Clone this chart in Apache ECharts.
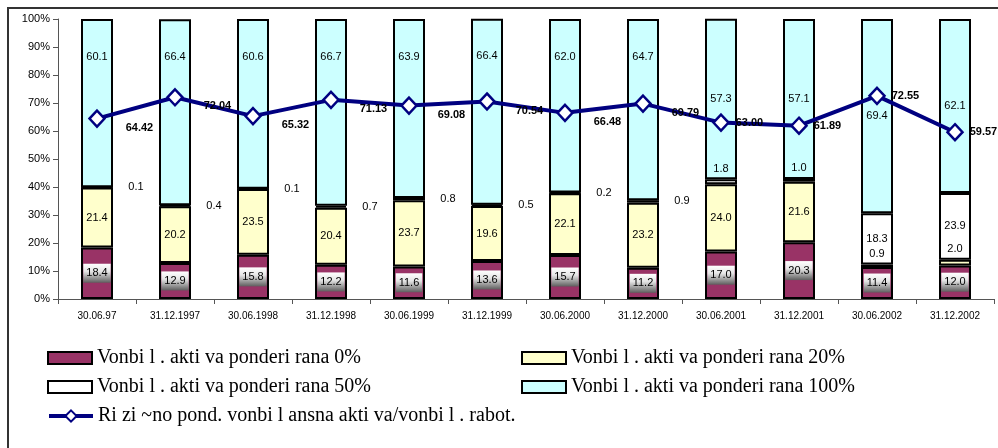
<!DOCTYPE html>
<html>
<head>
<meta charset="utf-8">
<script src="https://cdn.jsdelivr.net/npm/echarts@6/dist/echarts.min.js"></script>
<style>
html, body { margin: 0; padding: 0; background: #fff; }
#main { width: 998px; height: 448px; }
</style>
</head>
<body>
<div id="main"></div>
<script>
// datumi
var categories = ['30.06.97', '31.12.1997', '30.06.1998', '31.12.1998', '30.06.1999', '31.12.1999',
    '30.06.2000', '31.12.2000', '30.06.2001', '31.12.2001', '30.06.2002', '31.12.2002'];
var ponder0 = [18.4, 12.9, 15.8, 12.2, 11.6, 13.6, 15.7, 11.2, 17.0, 20.3, 11.4, 12.0];
var ponder20 = [21.4, 20.2, 23.5, 20.4, 23.7, 19.6, 22.1, 23.2, 24.0, 21.6, 0.9, 2.0];
var ponder50 = [0.1, 0.4, 0.1, 0.7, 0.8, 0.5, 0.2, 0.9, 1.8, 1.0, 18.3, 23.9];
var ponder100 = [60.1, 66.4, 60.6, 66.7, 63.9, 66.4, 62.0, 64.7, 57.3, 57.1, 69.4, 62.1];
var rizicno = [64.42, 72.04, 65.32, 71.13, 69.08, 70.54, 66.48, 69.79, 63.00, 61.89, 72.55, 59.57];
var yTicks = [0, 10, 20, 30, 40, 50, 60, 70, 80, 90, 100];

var names = [
    'Vonbi l . akti va ponderi rana 0%',
    'Vonbi l . akti va ponderi rana 20%',
    'Vonbi l . akti va ponderi rana 50%',
    'Vonbi l . akti va ponderi rana 100%',
    'Ri zi ~no pond. vonbi l ansna akti va/vonbi l . rabot.'
];

var dom = document.getElementById('main');
var myChart = echarts.init(dom);

var baseLabel = {
    show: true,
    color: '#000',
    fontFamily: 'Arial, Liberation Sans, sans-serif',
    fontSize: 11,
    formatter: function (p) { return p.value.toFixed(1); }
};

var data0 = ponder0.map(function (v) {
    return { value: v };
});

var data20 = ponder20.map(function (v) {
    if (v < 3) {
        return { value: v, label: { position: 'top', distance: 5 } };
    }
    return { value: v };
});

// mali vrednosti - etiketata desno od stolbot ili nad nego
var data50 = ponder50.map(function (v, i) {
    if (v < 3 && i < 8) {
        return { value: v, label: { position: 'inside', offset: [39, 0] } };
    }
    if (v < 3) {
        return { value: v, label: { position: 'top', distance: 5 } };
    }
    return { value: v };
});

var data100 = ponder100.map(function (v, i) {
    if (i < 8) {
        return { value: v, label: { position: 'insideTop', distance: 32 } };
    }
    return { value: v };
});

var dataLine = rizicno.map(function (v, i) {
    if (i < 8) {
        return { value: v, label: { distance: 20, offset: [0, 9] } };
    }
    return { value: v, label: { distance: 6, offset: [0, 0] } };
});

var barStyle = function (color) {
    return { color: color, borderColor: '#000', borderWidth: 2 };
};

var legendText = {
    fontFamily: 'Liberation Serif, serif',
    fontSize: 20,
    color: '#000'
};

function legendAt(name, left, top, isLine) {
    var lg = {
        data: [{ name: name, icon: isLine ? undefined : 'rect' }],
        left: left,
        top: top,
        itemWidth: 44,
        itemHeight: 12,
        itemGap: 0,
        padding: 0,
        selectedMode: false,
        textStyle: legendText
    };
    if (isLine) {
        lg.lineStyle = { width: 4 };
        lg.itemHeight = 14;
    }
    return lg;
}

option = {
    animation: false,
    backgroundColor: '#fff',
    grid: {
        left: 58,
        right: 4,
        top: 19,
        bottom: 149
    },
    graphic: [{
        type: 'rect',
        shape: { x: 8, y: 8, width: 1000, height: 500 },
        style: { fill: null, stroke: '#333', lineWidth: 2 },
        silent: true
    }],
    legend: [
        legendAt(names[0], 47, 348),
        legendAt(names[1], 521, 348),
        legendAt(names[2], 47, 377),
        legendAt(names[3], 521, 377),
        legendAt(names[4], 47, 406, true)
    ],
    xAxis: {
        type: 'category',
        data: categories,
        axisLine: { lineStyle: { color: '#555', width: 1 } },
        axisTick: { show: true, length: 5, lineStyle: { color: '#555' } },
        axisLabel: {
            color: '#000',
            fontFamily: 'Arial, Liberation Sans, sans-serif',
            fontSize: 10,
            margin: 12,
            interval: 0
        },
        splitLine: { show: false }
    },
    yAxis: {
        type: 'value',
        min: yTicks[0],
        max: yTicks[yTicks.length - 1],
        interval: 10,
        axisLine: { show: true, lineStyle: { color: '#555', width: 1 } },
        axisTick: { show: true, length: 5, lineStyle: { color: '#555' } },
        axisLabel: {
            color: '#000',
            fontFamily: 'Arial, Liberation Sans, sans-serif',
            fontSize: 11,
            margin: 8,
            formatter: '{value}%'
        },
        splitLine: { show: false }
    },
    series: [{
        name: names[0],
        type: 'bar',
        stack: 'a',
        barWidth: 32,
        itemStyle: barStyle('#993366'),
        label: Object.assign({}, baseLabel, {
            position: 'inside',
            padding: [4, 3, 4, 3],
            backgroundColor: new echarts.graphic.LinearGradient(0, 0, 0, 1, [
                { offset: 0, color: '#ffffff' },
                { offset: 0.4, color: '#e6e6e6' },
                { offset: 1, color: '#5e5e5e' }
            ])
        }),
        data: data0
    }, {
        name: names[1],
        type: 'bar',
        stack: 'a',
        itemStyle: barStyle('#FFFFCC'),
        label: Object.assign({}, baseLabel, { position: 'inside' }),
        data: data20
    }, {
        name: names[2],
        type: 'bar',
        stack: 'a',
        itemStyle: barStyle('#FFFFFF'),
        label: Object.assign({}, baseLabel, { position: 'inside' }),
        data: data50
    }, {
        name: names[3],
        type: 'bar',
        stack: 'a',
        itemStyle: barStyle('#CCFFFF'),
        label: Object.assign({}, baseLabel, { position: 'inside' }),
        data: data100
    }, {
        name: names[4],
        type: 'line',
        z: 5,
        symbol: 'diamond',
        symbolSize: [15, 16],
        lineStyle: { color: '#000080', width: 4 },
        itemStyle: { color: '#fff', borderColor: '#000080', borderWidth: 2.5 },
        label: {
            show: true,
            position: 'right',
            color: '#000',
            fontWeight: 'bold',
            fontFamily: 'Arial, Liberation Sans, sans-serif',
            fontSize: 11,
            formatter: function (p) { return p.value.toFixed(2); }
        },
        data: dataLine
    }]
};

myChart.setOption(option);
window.onresize = myChart.resize;
</script>
</body>
</html>
